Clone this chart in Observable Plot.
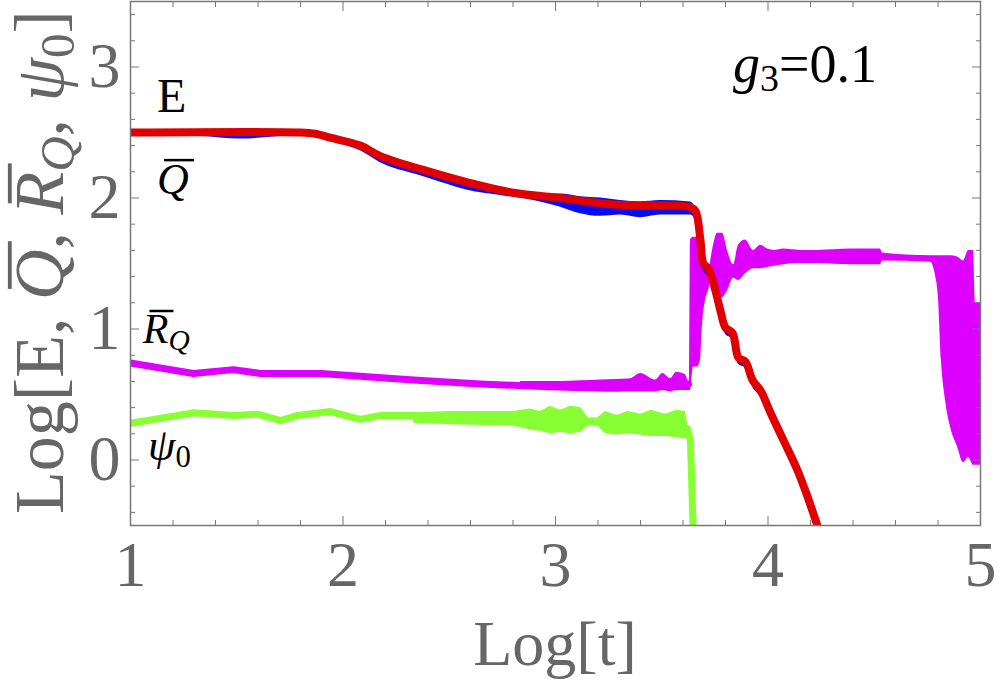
<!DOCTYPE html>
<html><head><meta charset="utf-8">
<script src="https://cdn.jsdelivr.net/npm/d3@7"></script>
<script src="https://cdn.jsdelivr.net/npm/@observablehq/plot@0.6"></script>
<style>html,body{margin:0;padding:0;background:#fff;}svg{display:block;}</style>
</head><body><div id="chart"></div>
<script>
// ---- data (Log[t], Log[value]) ----
const eX = [1.000,1.800,1.870,1.941,2.082,2.176,2.365,2.586,2.802,3.024,3.273,3.635,3.659,3.682,3.696,3.720,3.753,3.776,3.800,3.833,3.861,3.894,3.927,3.965,4.012,4.073,4.139,4.186,4.224,4.256];
const eY = [2.50,2.50,2.49,2.46,2.40,2.32,2.22,2.12,2.04,2.00,1.95,1.93,1.90,1.68,1.50,1.46,1.29,1.14,1.01,0.97,0.78,0.75,0.61,0.53,0.36,0.15,-0.08,-0.28,-0.46,-0.61];

const qX  = [1.000,1.329,1.518,1.706,1.800,1.941,2.082,2.176,2.365,2.459,2.586,2.741,2.929,3.024,3.118,3.212,3.306,3.400,3.494,3.635,3.659,3.682,3.696,3.720,3.753,3.776,3.800,3.833,3.861,3.894,3.927,3.965,4.012,4.073,4.139,4.186,4.224,4.256];
const qLo = [2.475,2.47,2.45,2.47,2.48,2.43,2.36,2.27,2.17,2.12,2.06,2.02,1.97,1.93,1.88,1.86,1.87,1.85,1.87,1.87,1.83,1.62,1.44,1.40,1.24,1.09,0.96,0.92,0.73,0.70,0.56,0.48,0.31,0.10,-0.13,-0.33,-0.51,-0.66];
const qHi = [2.50,2.50,2.50,2.50,2.50,2.46,2.40,2.32,2.22,2.17,2.12,2.07,2.03,2.03,2.01,2.00,1.98,1.97,1.98,1.97,1.92,1.70,1.52,1.48,1.31,1.16,1.03,0.99,0.80,0.77,0.63,0.55,0.38,0.17,-0.06,-0.26,-0.44,-0.59];

const rX = [1.000,1.296,1.485,1.612,1.706,1.894,2.082,2.332,2.647,2.962,3.273,3.433,3.588,3.626];
const rY = [0.74,0.66,0.69,0.66,0.66,0.66,0.64,0.61,0.58,0.56,0.55,0.56,0.57,0.58];
const rBX  = [2.835,3.024,3.212,3.353,3.400,3.471,3.505,3.541,3.570,3.612,3.626,3.631,3.635,3.649,3.668,3.682,3.692,3.706,3.720,3.739,3.762,3.786,3.809,3.838,3.861,3.894,3.932,3.965,3.998,4.035,4.073,4.153,4.233,4.388,4.529,4.539,4.765,4.788,4.802,4.816,4.835,4.859,4.892,4.920,4.944,4.967,4.976,5.000];
const rBLo = [0.55,0.53,0.52,0.52,0.52,0.52,0.53,0.52,0.53,0.53,0.53,0.53,0.53,0.71,0.71,0.76,1.04,1.22,1.29,1.39,1.29,1.24,1.29,1.39,1.37,1.42,1.46,1.46,1.47,1.48,1.49,1.50,1.50,1.49,1.49,1.52,1.51,1.41,1.24,0.76,0.46,0.25,0.10,-0.02,0.02,-0.04,-0.04,-0.04];
const rBHi = [0.60,0.60,0.61,0.62,0.66,0.61,0.66,0.62,0.67,0.65,0.60,0.60,1.68,1.70,1.70,1.60,1.56,1.51,1.45,1.60,1.73,1.73,1.60,1.49,1.64,1.68,1.60,1.64,1.61,1.60,1.61,1.60,1.60,1.61,1.61,1.58,1.56,1.56,1.56,1.56,1.56,1.56,1.55,1.52,1.60,1.60,1.20,1.20];

const gX = [1.000,1.296,1.485,1.598,1.706,1.786,1.941,2.082,2.176,2.332,2.647,2.962,3.273,3.588,3.621,3.635,3.649];
const gY = [0.28,0.36,0.34,0.35,0.30,0.34,0.37,0.31,0.34,0.34,0.32,0.30,0.29,0.26,0.24,0.15,-0.60];
const gBX  = [2.332,2.506,2.802,2.880,2.929,2.975,3.024,3.070,3.118,3.155,3.198,3.235,3.290,3.340,3.400,3.450,3.518,3.570,3.612,3.626];
const gBLo = [0.28,0.27,0.26,0.23,0.22,0.20,0.21,0.20,0.21,0.26,0.26,0.20,0.19,0.20,0.19,0.18,0.18,0.17,0.16,0.16];
const gBHi = [0.36,0.37,0.37,0.39,0.37,0.41,0.38,0.41,0.40,0.32,0.32,0.37,0.34,0.37,0.35,0.38,0.35,0.38,0.37,0.24];

const xTicks = [1,2,3,4,5];
const xMinor = [1.2,1.4,1.6,1.8,2.2,2.4,2.6,2.8,3.2,3.4,3.6,3.8,4.2,4.4,4.6,4.8];
const yTicks = [0,1,2,3];
const yMinor = [-0.4,-0.2,0.2,0.4,0.6,0.8,1.2,1.4,1.6,1.8,2.2,2.4,2.6,2.8,3.2,3.4];

// ---- tables ----
const eData = eX.map((x,i)=>({x, y:eY[i]}));
const qData = qX.map((x,i)=>({x, lo:qLo[i], hi:qHi[i]}));
const rData = rX.map((x,i)=>({x, y:rY[i]}));
const rBand = rBX.map((x,i)=>({x, lo:rBLo[i], hi:rBHi[i]}));
const gData = gX.map((x,i)=>({x, y:gY[i]}));
const gBand = gBX.map((x,i)=>({x, lo:gBLo[i], hi:gBHi[i]}));

const RED="#e00000", BLUE="#0a0af0", MAG="#de00ff", GREEN="#88ff33", AX="#777777", TXT="#666666";
const F = "'Liberation Serif', 'Times New Roman', serif";

const plot = Plot.plot({
  width:1000, height:688,
  marginLeft:130, marginRight:20, marginTop:1, marginBottom:163,
  x:{domain:[1,5]},
  y:{domain:[-0.5,3.5]},
  style:{fontFamily:F, background:"#fff", color:TXT},
  marks:[
    Plot.areaY(rBand,{x:"x", y1:"lo", y2:"hi", fill:MAG, curve:"monotone-x", clip:true}),
    Plot.line(rData,{x:"x", y:"y", stroke:MAG, strokeWidth:7, clip:true}),
    Plot.areaY(gBand,{x:"x", y1:"lo", y2:"hi", fill:GREEN, clip:true}),
    Plot.line(gData,{x:"x", y:"y", stroke:GREEN, strokeWidth:7, clip:true}),
    Plot.areaY(qData,{x:"x", y1:"lo", y2:"hi", fill:BLUE, curve:"monotone-x", clip:true}),
    Plot.line(eData,{x:"x", y:"y", stroke:RED, strokeWidth:8, curve:"catmull-rom", clip:true}),
    // tick labels
    Plot.axisX({ticks:xTicks, tickSize:0, tickPadding:15, fontSize:64, fill:TXT, label:null, tickFormat:d=>String(d)}),
    Plot.axisY({ticks:yTicks, tickSize:0, tickPadding:10, fontSize:64, fill:TXT, label:null, tickFormat:d=>String(d)}),
    // inward ticks on all sides
    Plot.axisX({anchor:"bottom", ticks:xTicks, tickSize:-9, fill:"none", stroke:AX, label:null}),
    Plot.axisX({anchor:"bottom", ticks:xMinor, tickSize:-5, fill:"none", stroke:AX, label:null}),
    Plot.axisX({anchor:"top", ticks:xTicks, tickSize:-9, fill:"none", stroke:AX, label:null}),
    Plot.axisX({anchor:"top", ticks:xMinor, tickSize:-5, fill:"none", stroke:AX, label:null}),
    Plot.axisY({anchor:"left", ticks:yTicks, tickSize:-9, fill:"none", stroke:AX, label:null}),
    Plot.axisY({anchor:"left", ticks:yMinor, tickSize:-5, fill:"none", stroke:AX, label:null}),
    Plot.axisY({anchor:"right", ticks:yTicks, tickSize:-9, fill:"none", stroke:AX, label:null}),
    Plot.axisY({anchor:"right", ticks:yMinor, tickSize:-5, fill:"none", stroke:AX, label:null}),
    Plot.frame({stroke:AX, strokeWidth:1.5})
  ]
});
document.getElementById("chart").appendChild(plot);

// ---- rich text helper (italic / subscript / overbar) ----
const sx = plot.scale("x"), sy = plot.scale("y");
const svg = d3.select(plot);
function rich(parent, x, y, size, color, parts, opts={}){
  const t = parent.append("text").attr("x", x).attr("y", y)
    .attr("font-family", F).attr("font-size", size).attr("fill", color)
    .attr("text-anchor", opts.anchor || "start");
  let shift = 0, idx = 0; const bars = [];
  for (const p of parts){
    const s = t.append("tspan").text(p.t);
    if (p.italic) s.attr("font-style","italic");
    const target = p.sub ? size*0.16 : 0;
    if (target !== shift){ s.attr("dy", target - shift); shift = target; }
    if (p.sub) s.attr("font-size", size*0.7);
    if (p.over) bars.push({i: idx, n: p.t.length, italic: !!p.italic});
    idx += [...p.t].length;
  }
  const node = t.node();
  for (const b of bars){
    const a = node.getStartPositionOfChar(b.i), e = node.getEndPositionOfChar(b.i + b.n - 1);
    const sk = b.italic ? size*0.12 : 0;
    const yy = a.y - size*0.76;
    parent.append("line").attr("x1", a.x + sk + size*0.04).attr("x2", e.x + sk).attr("y1", yy).attr("y2", yy)
      .attr("stroke", color).attr("stroke-width", Math.max(2.5, size*0.055));
  }
  return t;
}
// in-plot labels
rich(svg, sx.apply(1.127), sy.apply(2.65), 48, "#000", [{t:"E"}]);
rich(svg, sx.apply(1.127), sy.apply(2.03), 44, "#000", [{t:"Q", italic:true, over:true}]);
rich(svg, sx.apply(1.06), sy.apply(0.89), 42, "#000", [{t:"R", italic:true, over:true},{t:"Q", italic:true, sub:true}]);
rich(svg, sx.apply(1.085), sy.apply(0.0), 44, "#000", [{t:"ψ", italic:true},{t:"0", sub:true}]);
rich(svg, sx.apply(3.838), sy.apply(2.88), 54, "#000", [{t:"g", italic:true},{t:"3", sub:true},{t:"=0.1"}]);

// axis titles
rich(svg, (sx.range[0]+sx.range[1])/2, 665, 64, TXT, [{t:"Log[t]"}], {anchor:"middle"});
{
  const g = svg.append("g").attr("transform","translate(63,262) rotate(-90)");
  rich(g, 0, 0, 70, TXT, [
    {t:"Log[E, "},{t:"Q", italic:true, over:true},{t:", "},
    {t:"R", italic:true, over:true},{t:"Q", italic:true, sub:true},{t:", "},
    {t:"ψ", italic:true},{t:"0", sub:true},{t:"]"}
  ], {anchor:"middle"});
}
</script>
</body></html>
